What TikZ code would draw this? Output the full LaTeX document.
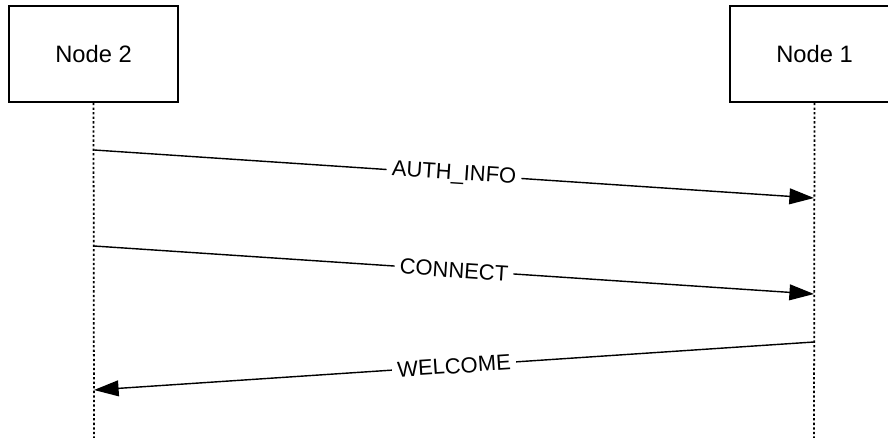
\documentclass[tikz,border=0pt]{standalone}
\usepackage{fontspec}
\setmainfont{Liberation Sans}
\usetikzlibrary{arrows.meta}
\begin{document}
\begin{tikzpicture}[x=0.02cm,y=-0.02cm,
    actor/.style={draw,line width=1.1pt,minimum width=3.38cm,minimum height=1.92cm,
      font=\fontsize{13.5}{16}\selectfont},
    lifeline/.style={line width=1pt,dash pattern=on 1.3pt off 1.3pt},
    msg/.style={line width=0.8pt,-{Triangle[length=14pt,width=9pt]}},
    msglabel/.style={fill=white,sloped,inner xsep=3pt,inner ysep=1pt,
      font=\fontsize{12.5}{15}\selectfont}]
            \useasboundingbox (0,0) rectangle (888,438);
            \clip (0,0) rectangle (888,438);

            % Participantes
            \node[actor] (node2) at (93.5,54) {Node 2};
            \node[actor] (node1) at (814.5,54) {Node 1};

            % Lineas de vida
            \coordinate (node2end) at (94,438);
            \coordinate (node1end) at (814,438);
            \draw[lifeline] (node2.south) -- (node2end);
            \draw[lifeline] (node1.south) -- (node1end);

            % Puntos de los mensajes
            \coordinate (authA) at (94,150);
            \coordinate (authB) at (814,198);
            \coordinate (connA) at (94,246);
            \coordinate (connB) at (814,294);
            \coordinate (welcA) at (814,342);
            \coordinate (welcB) at (94,390);

            % Mensajes
            \draw[msg] (authA) -- node[msglabel] {AUTH\_INFO} (authB);
            \draw[msg] (connA) -- node[msglabel] {CONNECT} (connB);
            \draw[msg] (welcA) -- node[msglabel] {WELCOME} (welcB);
        \end{tikzpicture}
\end{document}
